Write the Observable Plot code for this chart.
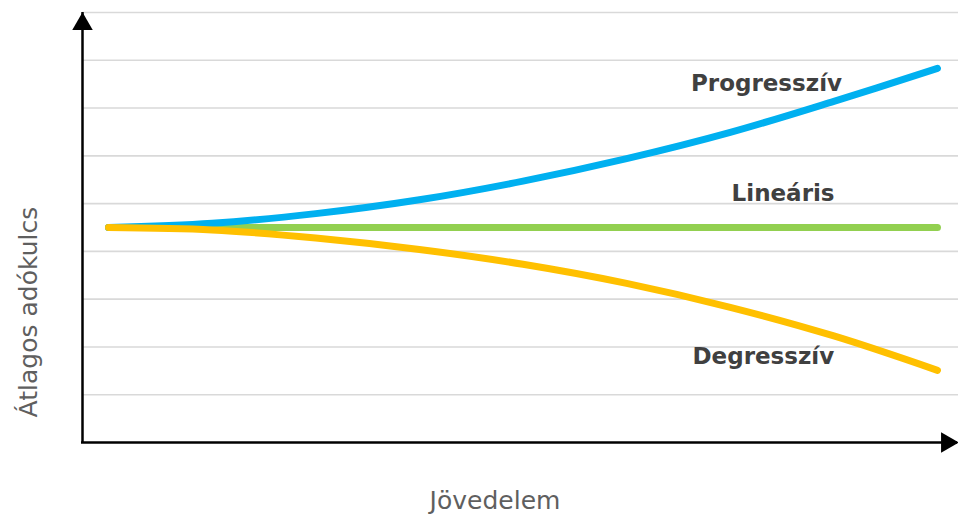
<!DOCTYPE html>
<html>
<head>
<meta charset="utf-8">
<script src="https://cdn.jsdelivr.net/npm/d3@7"></script>
<script src="https://cdn.jsdelivr.net/npm/@observablehq/plot@0.6"></script>
<style>
  html, body { margin: 0; padding: 0; background: #fff; }
  #chart svg { display: block; }
</style>
</head>
<body>
<div id="chart"></div>
<script>
// Income steps (arbitrary units)
const income = [0, 1, 2, 3, 4, 5, 6, 7, 8];
// Average tax rate (arbitrary units)
const progressive = [4.50, 4.59, 4.79, 5.08, 5.47, 5.94, 6.49, 7.14, 7.83];
const linear      = [4.50, 4.50, 4.50, 4.50, 4.50, 4.50, 4.50, 4.50, 4.50];
const degressive  = [4.50, 4.45, 4.28, 4.04, 3.73, 3.33, 2.83, 2.23, 1.51];
const seriesNames = ["Progresszív", "Lineáris", "Degresszív"];
const gridValues = [1, 2, 3, 4, 5, 6, 7, 8, 9];
const xTitle = "Jövedelem";
const yTitle = "Átlagos adókulcs";

const toRows = (vals, name) => income.map((x, i) => ({x, y: vals[i], name}));
const rowsP = toRows(progressive, seriesNames[0]);
const rowsL = toRows(linear, seriesNames[1]);
const rowsD = toRows(degressive, seriesNames[2]);

const xDomain = [-0.251, 8.203];
const yDomain = [0, 9];
const font = "'DejaVu Sans', sans-serif";
const labelStyle = {fontSize: 23, fontWeight: "bold", fill: "#404040", fontFamily: font};

const chart = Plot.plot({
  width: 958,
  height: 516,
  marginLeft: 82,
  marginRight: 0,
  marginTop: 12,
  marginBottom: 74,
  x: {domain: xDomain, axis: null},
  y: {domain: yDomain, axis: null},
  style: {fontFamily: font, background: "#fff"},
  marks: [
    Plot.ruleY(gridValues, {stroke: "#d9d9d9", strokeWidth: 1.6}),
    Plot.line(rowsL, {x: "x", y: "y", stroke: "#92D050", strokeWidth: 7, strokeLinecap: "round"}),
    Plot.line(rowsP, {x: "x", y: "y", stroke: "#00B0F0", strokeWidth: 7, strokeLinecap: "round", curve: "catmull-rom"}),
    Plot.line(rowsD, {x: "x", y: "y", stroke: "#FFC000", strokeWidth: 7, strokeLinecap: "round", curve: "catmull-rom"}),
    // axes
    Plot.ruleX([xDomain[0]], {stroke: "#000", strokeWidth: 2.5, y1: yDomain[0], y2: yDomain[1]}),
    Plot.ruleY([yDomain[0]], {stroke: "#000", strokeWidth: 2.5, x1: xDomain[0], x2: xDomain[1], dx: -1}),
    Plot.dot([0], {frameAnchor: "top-left", symbol: "triangle", r: 7.6, fill: "#000", stroke: null, dy: 11.5}),
    Plot.dot([0], {frameAnchor: "bottom-right", symbol: "triangle", r: 7.6, fill: "#000", stroke: null, rotate: 90, dx: -11.5}),
    // series labels
    Plot.text([seriesNames[0]], {x: 6.35, y: 7.51, text: d => d, ...labelStyle}),
    Plot.text([seriesNames[1]], {x: 6.51, y: 5.205, text: d => d, ...labelStyle}),
    Plot.text([seriesNames[2]], {x: 6.32, y: 1.80, text: d => d, ...labelStyle}),
    // axis titles
    Plot.text([xTitle], {frameAnchor: "bottom", text: d => d, dx: -25.5, dy: 66, fontSize: 25, fill: "#5f5f5f"}),
    Plot.text([yTitle], {x: -0.767, y: 2.73, text: d => d, rotate: -90, fontSize: 25, fill: "#5f5f5f", clip: false})
  ]
});
document.getElementById("chart").appendChild(chart);
</script>
</body>
</html>
